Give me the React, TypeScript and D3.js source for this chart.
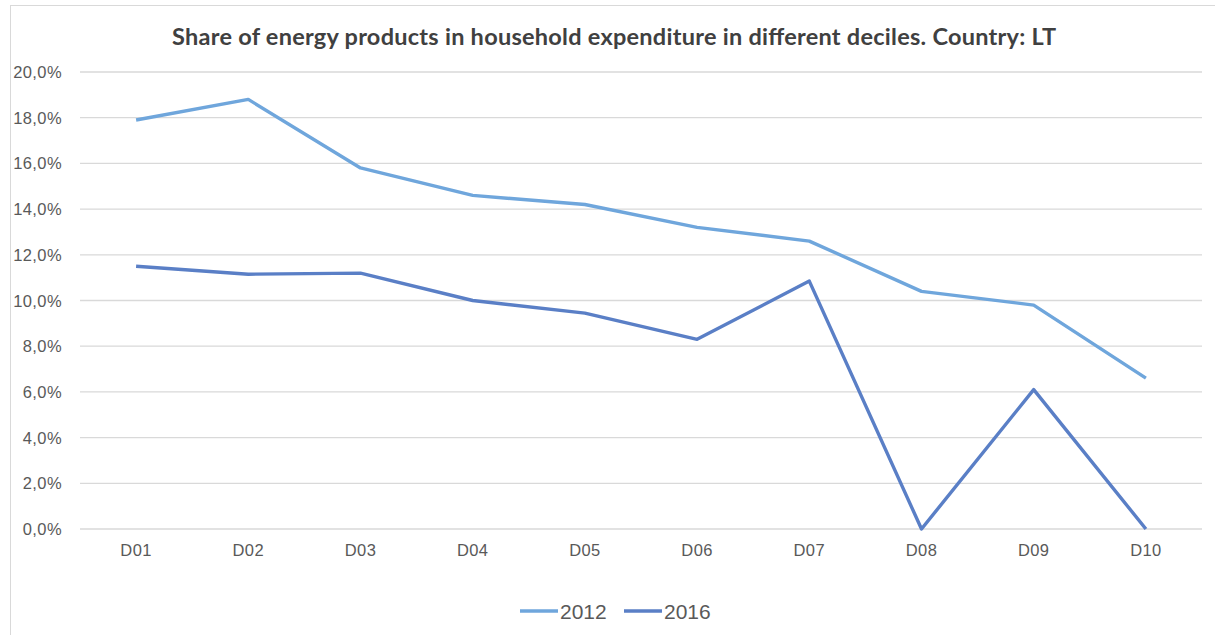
import React, { useEffect, useRef } from "react";
import * as d3 from "d3";

const deciles = ["D01", "D02", "D03", "D04", "D05", "D06", "D07", "D08", "D09", "D10"];
const values2012 = [17.9, 18.8, 15.8, 14.6, 14.2, 13.2, 12.6, 10.4, 9.8, 6.6];
const values2016 = [11.5, 11.15, 11.2, 10.0, 9.45, 8.3, 10.85, 0, 6.1, 0];
const yTicks = [0, 2, 4, 6, 8, 10, 12, 14, 16, 18, 20];
const seriesNames = ["2012", "2016"];
const seriesColors = ["#6fa6dc", "#5a7fc6"];

const W = 1215;
const H = 635;

export default function App() {
  const ref = useRef<SVGSVGElement>(null);

  useEffect(() => {
    const svg = d3.select(ref.current);
    svg.selectAll("*").remove();

    const left = 80, right = 1202, top = 72, bottom = 529;

    // frame
    svg.append("rect")
      .attr("x", 10.5).attr("y", 5.5)
      .attr("width", W).attr("height", H)
      .attr("fill", "#fff").attr("stroke", "#d9d9d9");

    svg.append("text")
      .attr("x", 614).attr("y", 45)
      .attr("text-anchor", "middle")
      .attr("font-family", "Lato, 'Open Sans', sans-serif")
      .attr("font-weight", "bold")
      .attr("font-size", 23.5)
      .attr("textLength", 884)
      .attr("lengthAdjust", "spacing")
      .attr("fill", "#404040")
      .text("Share of energy products in household expenditure in different deciles. Country: LT");

    const x = d3.scaleBand().domain(deciles).range([left, right]);
    const y = d3.scaleLinear().domain([0, 20]).range([bottom, top]);

    // grid
    svg.append("g")
      .selectAll("line")
      .data(yTicks)
      .join("line")
      .attr("x1", left).attr("x2", right)
      .attr("y1", d => y(d)).attr("y2", d => y(d))
      .attr("stroke", "#d9d9d9").attr("stroke-width", 1.3);

    const fmt = (d: number) => d.toFixed(1).replace(".", ",") + "%";

    svg.append("g")
      .selectAll("text")
      .data(yTicks)
      .join("text")
      .attr("x", 62).attr("y", d => y(d) + 6)
      .attr("text-anchor", "end")
      .attr("font-family", "Arial, 'Liberation Sans', sans-serif")
      .attr("font-size", 16.5)
      .attr("letter-spacing", 0.4)
      .attr("fill", "#595959")
      .text(fmt);

    svg.append("g")
      .selectAll("text")
      .data(deciles)
      .join("text")
      .attr("x", d => (x(d) as number) + x.bandwidth() / 2)
      .attr("y", 556)
      .attr("text-anchor", "middle")
      .attr("font-family", "Arial, 'Liberation Sans', sans-serif")
      .attr("font-size", 16.5)
      .attr("letter-spacing", 0.4)
      .attr("fill", "#595959")
      .text(d => d);

    const line = d3.line<number>()
      .x((_, i) => (x(deciles[i]) as number) + x.bandwidth() / 2)
      .y(d => y(d));

    [values2012, values2016].forEach((vals, i) => {
      svg.append("path")
        .datum(vals)
        .attr("d", line)
        .attr("fill", "none")
        .attr("stroke", seriesColors[i])
        .attr("stroke-width", 3.4)
        .attr("stroke-linejoin", "round");
    });

    // legend
    const lg = svg.append("g");
    const lx = [520, 624];
    seriesNames.forEach((name, i) => {
      lg.append("line")
        .attr("x1", lx[i]).attr("x2", lx[i] + 38)
        .attr("y1", 611).attr("y2", 611)
        .attr("stroke", seriesColors[i]).attr("stroke-width", 3.4);
      lg.append("text")
        .attr("x", lx[i] + 40).attr("y", 618.5)
        .attr("font-family", "Arial, 'Liberation Sans', sans-serif")
        .attr("font-size", 21)
        .attr("fill", "#595959")
        .text(name);
    });
  }, []);

  return (
    <svg
      ref={ref}
      width={W}
      height={H}
      style={{ position: "absolute", left: 0, top: 0, background: "#fff" }}
    />
  );
}
